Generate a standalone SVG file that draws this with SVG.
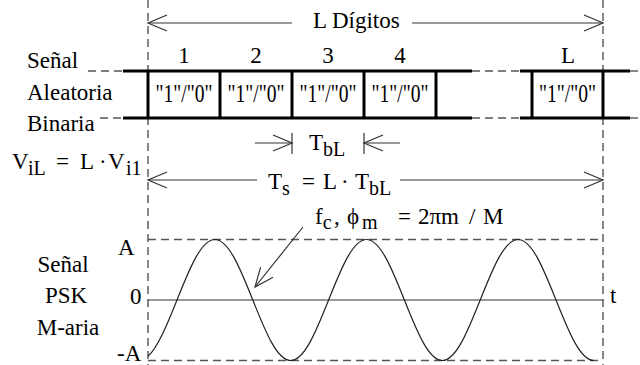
<svg xmlns="http://www.w3.org/2000/svg" width="640" height="365" viewBox="0 0 640 365">
<style>
text{font-family:'Liberation Serif','Times New Roman','DejaVu Serif',serif;font-size:23px;fill:#000}
.sub{font-size:20px}
.c{text-anchor:middle}
.bit{font-size:25px}
.guide{stroke:#555;stroke-width:1.4;stroke-dasharray:8,5;fill:none}
.thick{stroke:#000;stroke-width:3;fill:none}
.thin{stroke:#333;stroke-width:1.2;fill:none}
.arr{stroke:#333;stroke-width:1.2;fill:none;marker-end:url(#open)}
.wave{stroke:#222;stroke-width:1.2;fill:none}
</style>
<defs>
<marker id="open" markerUnits="userSpaceOnUse" markerWidth="30" markerHeight="30" refX="0" refY="0" orient="auto" overflow="visible">
<path d="M-19,-8 L0,0 L-19,8" fill="none" stroke="#333" stroke-width="1.2"/>
</marker>
</defs>

<g id="guides">
<line class="guide" x1="148" y1="0" x2="148" y2="365"/>
<line class="guide" x1="603" y1="0" x2="603" y2="365"/>
<line class="guide" x1="88" y1="71" x2="123" y2="71"/>
<line class="guide" x1="100" y1="118" x2="123" y2="118"/>
<line class="guide" x1="472" y1="71" x2="520" y2="71"/>
<line class="guide" x1="472" y1="118" x2="520" y2="118"/>
<line class="guide" x1="630" y1="71" x2="640" y2="71"/>
<line class="guide" x1="630" y1="118" x2="640" y2="118"/>
<line class="guide" x1="148" y1="239.5" x2="603" y2="239.5"/>
<line class="guide" x1="148" y1="360.5" x2="603" y2="360.5"/>
</g>

<g font-family="Liberation Serif, Times New Roman, DejaVu Serif, serif">
<g id="signal-labels">
<text x="27" y="68">Señal</text>
<text x="27" y="100">Aleatoria</text>
<text x="27" y="131">Binaria</text>
</g>

<g id="bit-row">
<path class="thick" d="M123,71 H472 M520,71 H630 M123,118 H472 M520,118 H630"/>
<g id="bit-1"><line class="thick" x1="148" y1="71" x2="148" y2="118"/><text class="c" x="184" y="63">1</text><text class="c bit" x="184" y="102" textLength="57" lengthAdjust="spacingAndGlyphs">"1"/"0"</text></g>
<g id="bit-2"><line class="thick" x1="220" y1="71" x2="220" y2="118"/><text class="c" x="256" y="63">2</text><text class="c bit" x="256" y="102" textLength="57" lengthAdjust="spacingAndGlyphs">"1"/"0"</text></g>
<g id="bit-3"><line class="thick" x1="292" y1="71" x2="292" y2="118"/><text class="c" x="328" y="63">3</text><text class="c bit" x="328" y="102" textLength="57" lengthAdjust="spacingAndGlyphs">"1"/"0"</text></g>
<g id="bit-4"><line class="thick" x1="364" y1="71" x2="364" y2="118"/><line class="thick" x1="436" y1="71" x2="436" y2="118"/><text class="c" x="400" y="63">4</text><text class="c bit" x="400" y="102" textLength="57" lengthAdjust="spacingAndGlyphs">"1"/"0"</text></g>
<g id="bit-L"><line class="thick" x1="532" y1="71" x2="532" y2="118"/><line class="thick" x1="603" y1="71" x2="603" y2="118"/><text class="c" x="568" y="63">L</text><text class="c bit" x="567.5" y="102" textLength="57" lengthAdjust="spacingAndGlyphs">"1"/"0"</text></g>
</g>

<g id="connectors">
<line class="arr" x1="292" y1="23" x2="148" y2="23"/>
<line class="arr" x1="412" y1="23" x2="603" y2="23"/>
<line class="arr" x1="255" y1="143" x2="292" y2="143"/>
<line class="thin" x1="292" y1="133" x2="292" y2="154"/>
<line class="arr" x1="400" y1="143" x2="364" y2="143"/>
<line class="thin" x1="364" y1="133" x2="364" y2="154"/>
<line class="arr" x1="257" y1="180" x2="148" y2="180"/>
<line class="arr" x1="400" y1="180" x2="603" y2="180"/>
<line class="arr" x1="303" y1="227" x2="255" y2="287"/>
</g>

<g id="l-digitos"><text x="313" y="28">L Dígitos</text></g>

<g id="tbl-label"><text x="309" y="150">T<tspan class="sub" dy="6">bL</tspan></text></g>

<g id="vil-label">
<text x="12" y="169">V<tspan class="sub" x="28" dy="6">iL</tspan><tspan x="56" dy="-6">=</tspan><tspan x="80">L</tspan><tspan x="99">·</tspan><tspan x="108">V</tspan><tspan class="sub" x="126" dy="6">i1</tspan></text>
</g>

<g id="ts-label">
<text x="268" y="189">T<tspan class="sub" dy="6">s</tspan><tspan x="302" dy="-6">=</tspan><tspan x="323">L</tspan><tspan x="341">·</tspan><tspan x="355">T</tspan><tspan class="sub" dy="6">bL</tspan></text>
</g>

<g id="fc-label">
<text x="315" y="224">f<tspan class="sub" dy="5">c</tspan><tspan x="334" dy="-5">,</tspan><tspan x="347">ϕ</tspan><tspan class="sub" x="362" dy="5" font-size="22">m</tspan><tspan x="398" dy="-5">=</tspan><tspan x="418">2πm</tspan><tspan x="469">/</tspan><tspan x="483">M</tspan></text>
</g>

<g id="psk-labels">
<text class="c" x="63" y="272">Señal</text>
<text class="c" x="66" y="303">PSK</text>
<text class="c" x="68" y="335">M-aria</text>
<text x="118" y="255">A</text>
<text x="130" y="304">0</text>
<text x="117" y="361">-A</text>
<text x="610" y="303">t</text>
</g>
</g>

<g id="waveform">
<line class="thin" x1="148" y1="300" x2="603" y2="300"/>
<path class="wave" d="M148,356.4 C157.67,347.66 167.33,324.24 177,300 C189.36,269 201.18,239.5 214.9,239.5 C228.62,239.5 240.44,269 252.8,300 C265.16,331 276.98,360.5 290.7,360.5 C304.42,360.5 316.24,331 328.6,300 C340.96,269 352.78,239.5 366.5,239.5 C380.22,239.5 392.04,269 404.4,300 C416.76,331 428.58,360.5 442.3,360.5 C456.02,360.5 467.84,331 480.2,300 C492.56,269 504.38,239.5 518.1,239.5 C531.82,239.5 543.64,269 556,300 C568.36,331 580.18,360.5 593.9,360.5"/>
</g>
</svg>
